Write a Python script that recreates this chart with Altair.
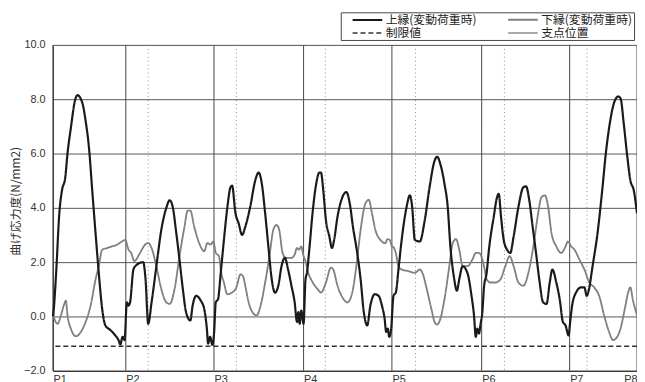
import altair as alt
import pandas as pd

SERIES = ["上縁(変動荷重時)", "下縁(変動荷重時)", "制限値", "支点位置"]
COLORS = ["#1a1a1a", "#808080", "#333333", "#555555"]
DASHES = [[1, 0], [1, 0], [5, 3], [1, 0]]
WIDTHS = [2.2, 1.1, 1.6, 1.0]

# support (pier) positions, metres from P1
support_m = [0.0, 41.0, 90.6, 141.0, 190.7, 241.2, 290.7, 328.6]
support_names = ["P1", "P2", "P3", "P4", "P5", "P6", "P7", "P8"]
# dotted reference lines
joint_m = [53.6, 103.2, 153.2, 204.0, 254.0, 300.4]
LIMIT = -1.1

upper_m = [0.0, 0.3, 1.8, 3.6, 5.1, 6.9, 8.2, 10.1, 12.5, 13.8,
           16.6, 18.4, 20.3, 22.1, 24.0, 25.8, 27.7, 29.5, 32.3, 35.1,
           36.9, 37.9, 39.2, 40.3, 41.6, 42.5, 43.4, 45.3, 47.1, 50.8,
           52.1, 53.6, 55.5, 58.2, 61.0, 63.8, 65.7, 67.5, 69.4, 71.2,
           73.1, 74.9, 77.3, 78.6, 80.5, 83.2, 85.1, 86.6, 87.3, 88.4,
           89.7, 90.7, 91.6, 92.9, 94.4, 96.2, 98.1, 99.9, 100.8, 102.7,
           104.5, 106.4, 108.2, 111.0, 113.8, 115.7, 117.5, 119.4, 121.2, 123.1,
           124.9, 126.8, 128.6, 130.5, 132.3, 134.2, 136.0, 137.3, 138.1, 138.8,
           139.7, 141.0, 142.1, 142.9, 144.4, 146.2, 148.1, 149.9, 150.8, 152.1,
           153.6, 155.5, 157.0, 158.2, 160.1, 162.9, 165.1, 167.0, 168.8, 171.2,
           173.1, 174.9, 176.8, 178.6, 181.0, 183.2, 185.1, 186.6, 187.5, 188.4,
           189.2, 190.3, 191.6, 192.9, 194.4, 196.2, 199.0, 200.8, 202.1, 203.6,
           206.4, 209.2, 211.9, 214.7, 216.2, 218.0, 220.3, 222.1, 223.6, 225.5,
           227.3, 228.6, 230.5, 233.2, 235.5, 236.9, 237.9, 238.8, 239.7, 240.6,
           241.6, 242.5, 244.0, 245.3, 248.0, 249.9, 250.8, 252.1, 253.6, 255.5,
           257.3, 259.2, 261.9, 264.7, 266.2, 268.0, 269.9, 271.8, 273.6, 275.8,
           277.7, 279.5, 281.0, 283.2, 285.1, 286.9, 288.4, 290.1, 291.0, 292.1,
           294.3, 297.1, 299.0, 300.3, 301.4, 303.6, 306.4, 309.2, 311.0, 313.2,
           315.6, 318.0, 319.3, 321.2, 323.0, 324.9, 326.8, 328.6]
upper_v = [0.0, 0.15, 1.6, 3.8, 4.65, 5.1, 6.0, 6.95, 7.98, 8.15,
           7.85, 7.2, 6.2, 4.65, 3.05, 1.6, 0.28, -0.33, -0.5, -0.7,
           -0.87, -1.03, -0.75, -0.87, 0.52, 0.4, 0.52, 1.73, 1.9, 2.0,
           1.37, -0.27, 0.52, 1.85, 3.2, 4.0, 4.28, 4.0, 3.07, 2.1,
           1.0, 0.16, -0.15, 0.4, 0.76, 0.58, 0.28, -0.45, -1.0, -0.75,
           -1.05, -0.57, 0.52, 0.64, 1.6, 2.82, 4.0, 4.76, 4.82, 3.8,
           3.43, 3.0, 3.3, 4.04, 5.0, 5.3, 4.9, 3.8, 2.58, 1.37,
           0.88, 1.13, 1.85, 2.16, 1.73, 1.13, 0.52, -0.2, 0.16, -0.27,
           0.22, -0.27, 1.37, 1.6, 2.58, 3.9, 4.88, 5.3, 5.3, 4.64,
           3.55, 2.95, 2.52, 2.82, 3.67, 4.4, 4.58, 4.16, 3.3, 2.34,
           1.37, 0.16, -0.33, 0.4, 0.82, 0.76, 0.4, -0.08, -0.57, -0.45,
           -0.75, -0.45, 0.76, 0.88, 1.73, 2.82, 4.04, 4.46, 4.04, 2.82,
           2.76, 3.55, 4.76, 5.73, 5.88, 5.6, 4.88, 4.04, 2.58, 1.49,
           0.95, 1.37, 1.85, 1.6, 0.76, 0.04, -0.75, -0.45, -0.63, -0.27,
           0.16, 1.07, 1.6, 2.46, 3.67, 4.4, 4.52, 3.67, 2.82, 2.46,
           2.34, 2.95, 4.04, 4.76, 4.79, 4.28, 3.3, 2.34, 1.37, 0.52,
           0.46, 1.25, 1.73, 1.25, 0.64, -0.2, -0.33, -0.7, -0.2, 0.4,
           0.88, 1.07, 1.07, 0.76, 0.95, 1.85, 3.07, 4.76, 5.97, 7.07,
           7.85, 8.1, 8.04, 7.07, 5.97, 5.0, 4.64, 3.8]

lower_m = [0.0, 0.8, 2.7, 4.5, 6.4, 7.3, 8.2, 10.1, 12.9, 15.7,
           18.4, 21.2, 24.0, 25.8, 27.7, 30.5, 33.2, 36.0, 38.8, 40.7,
           42.5, 44.0, 45.8, 49.0, 51.8, 53.6, 55.5, 58.2, 61.0, 63.8,
           65.7, 68.4, 71.2, 74.0, 75.8, 77.3, 79.5, 82.3, 85.1, 86.9,
           88.8, 90.3, 91.6, 93.4, 94.7, 96.2, 98.1, 100.8, 103.2, 105.5,
           106.9, 108.2, 110.1, 112.9, 114.7, 116.6, 119.4, 121.8, 124.0, 125.8,
           127.3, 129.2, 131.0, 134.2, 136.0, 137.3, 138.4, 139.7, 141.0, 142.1,
           143.4, 146.2, 149.0, 150.8, 153.6, 156.4, 157.7, 160.1, 162.9, 165.7,
           168.4, 170.7, 173.1, 175.8, 177.7, 179.5, 181.4, 184.2, 187.0, 188.2,
           189.7, 190.7, 191.6, 192.9, 194.4, 196.2, 199.9, 203.6, 206.4, 208.2,
           210.1, 212.9, 214.7, 216.2, 218.0, 220.3, 223.0, 224.9, 226.8, 228.6,
           230.5, 233.2, 236.0, 237.9, 239.7, 241.6, 242.9, 244.0, 246.2, 249.0,
           251.8, 254.5, 256.9, 259.2, 261.9, 264.7, 267.5, 270.3, 273.0, 274.9,
           276.8, 278.6, 280.5, 283.2, 286.0, 288.4, 289.7, 291.6, 293.4, 296.2,
           299.0, 301.8, 304.5, 307.3, 310.1, 312.9, 315.1, 316.9, 319.3, 322.1,
           323.6, 324.9, 326.2, 328.6]
lower_v = [0.3, -0.08, -0.27, 0.04, 0.46, 0.58, 0.04, -0.45, -0.73, -0.57,
           -0.2, 0.4, 1.37, 1.85, 2.46, 2.52, 2.58, 2.64, 2.76, 2.82,
           2.46, 2.34, 2.04, 2.34, 2.64, 2.7, 2.52, 1.85, 1.0, 0.52,
           0.46, 1.0, 2.22, 3.3, 3.9, 3.9, 3.3, 2.7, 2.4, 2.7,
           2.65, 2.76, 2.34, 2.22, 1.6, 1.25, 0.82, 0.88, 1.07, 1.55,
           1.49, 1.13, 0.52, 0.1, 0.04, 0.34, 1.25, 2.22, 3.19, 3.37,
           3.19, 2.34, 2.16, 2.16, 2.28, 2.52, 2.46, 2.58, 2.22, 2.04,
           1.67, 1.25, 1.0, 0.88, 1.25, 1.8, 1.73, 1.13, 0.7, 0.52,
           0.88, 1.85, 3.19, 4.16, 4.3, 3.8, 3.19, 2.82, 2.7, 2.85,
           2.8, 2.58, 2.55, 2.34, 1.85, 1.73, 1.67, 1.61, 1.73, 1.55,
           1.07, 0.28, -0.2, -0.3, -0.08, 0.64, 1.85, 2.7, 2.85, 2.46,
           1.85, 1.85, 2.1, 2.34, 2.34, 2.1, 1.73, 1.37, 1.25, 1.25,
           1.37, 1.85, 2.22, 1.85, 1.25, 1.13, 1.61, 2.58, 3.8, 4.4,
           4.46, 4.04, 3.07, 2.58, 2.34, 2.58, 2.76, 2.58, 2.46, 2.1,
           1.73, 1.25, 1.07, 0.76, 0.04, -0.57, -0.87, -0.8, -0.45, 0.4,
           0.88, 1.07, 0.64, 0.04]

upper_df = pd.DataFrame({"m": upper_m, "v": upper_v, "series": SERIES[0]})
lower_df = pd.DataFrame({"m": lower_m, "v": lower_v, "series": SERIES[1]})
limit_df = pd.DataFrame({"v": [LIMIT], "series": [SERIES[2]]})
support_df = pd.DataFrame({"m": support_m, "name": support_names, "series": SERIES[3]})
joint_df = pd.DataFrame({"m": joint_m})

label_expr = " : ".join(f"datum.value == {p} ? '{n}'" for p, n in zip(support_m, support_names)) + " : ''"

x_scale = alt.Scale(domain=[support_m[0], support_m[-1]], nice=False, zero=False)
y_scale = alt.Scale(domain=[-2, 10], nice=False, zero=False)

x_axis = alt.Axis(values=support_m, labelExpr=label_expr, title=None, grid=False, ticks=False,
                  domainColor="#222222", domainWidth=1, labelFont="Liberation Sans", labelFontSize=11,
                  labelColor="#333333", labelPadding=3, labelFlush=False, labelBound=False,
                  labelOverlap=False, labelBaseline="top",
                  labelAlign={"condition": {"test": "datum.value > 320", "value": "right"}, "value": "left"})
y_axis = alt.Axis(values=[-2, 0, 2, 4, 6, 8, 10], format=".1f", title="曲げ応力度(N/mm2)",
                  grid=True, gridColor="#555555", gridWidth=1, ticks=False, domainColor="#222222",
                  labelFont="Liberation Sans", labelFontSize=11, labelColor="#333333", labelPadding=8,
                  titleFont="Noto Sans CJK JP", titleFontSize=12, titleFontWeight="normal",
                  titleColor="#333333", titleAngle=270, titleX=-38, titleY=158,
                  titleAlign="center", titleBaseline="middle")

legend = alt.Legend(title=None, orient="none", legendX=291.5, legendY=-33, columns=2,
                    direction="horizontal",
                    symbolType="M-3,0H3", symbolSize=100, symbolOffset=19.5,
                    labelFont="Noto Sans CJK JP", labelFontSize=12, labelColor="#222222",
                    labelOffset=12, strokeColor="#444444", fillColor="white", padding=1,
                    rowPadding=1, columnPadding=20.5)

color = alt.Color("series:N", scale=alt.Scale(domain=SERIES, range=COLORS), legend=legend)
dash = alt.StrokeDash("series:N", scale=alt.Scale(domain=SERIES, range=DASHES), legend=legend)
swidth = alt.StrokeWidth("series:N", scale=alt.Scale(domain=SERIES, range=WIDTHS), legend=legend)

X = alt.X("m:Q", scale=x_scale, axis=x_axis)
Y = alt.Y("v:Q", scale=y_scale, axis=y_axis)

joints = alt.Chart(joint_df).mark_rule(color="#888888", strokeDash=[1, 3], strokeWidth=1).encode(x=X)
supports = alt.Chart(support_df).mark_rule().encode(x=X, color=color, strokeDash=dash, strokeWidth=swidth)
limit = alt.Chart(limit_df).mark_rule().encode(y=Y, color=color, strokeDash=dash, strokeWidth=swidth)
lower = alt.Chart(lower_df).mark_line(interpolate="monotone").encode(
    x=X, y=Y, color=color, strokeDash=dash, strokeWidth=swidth)
upper = alt.Chart(upper_df).mark_line(interpolate="monotone").encode(
    x=X, y=Y, color=color, strokeDash=dash, strokeWidth=swidth)

chart = alt.layer(joints, supports, limit, lower, upper).properties(
    width=591.5, height=330, autosize="none",
    padding={"left": 45.5, "top": 35, "right": 0, "bottom": 9},
).configure_view(stroke=None).configure(background="white")

chart.save("out.html", embed_options={"renderer": "svg", "actions": False})
